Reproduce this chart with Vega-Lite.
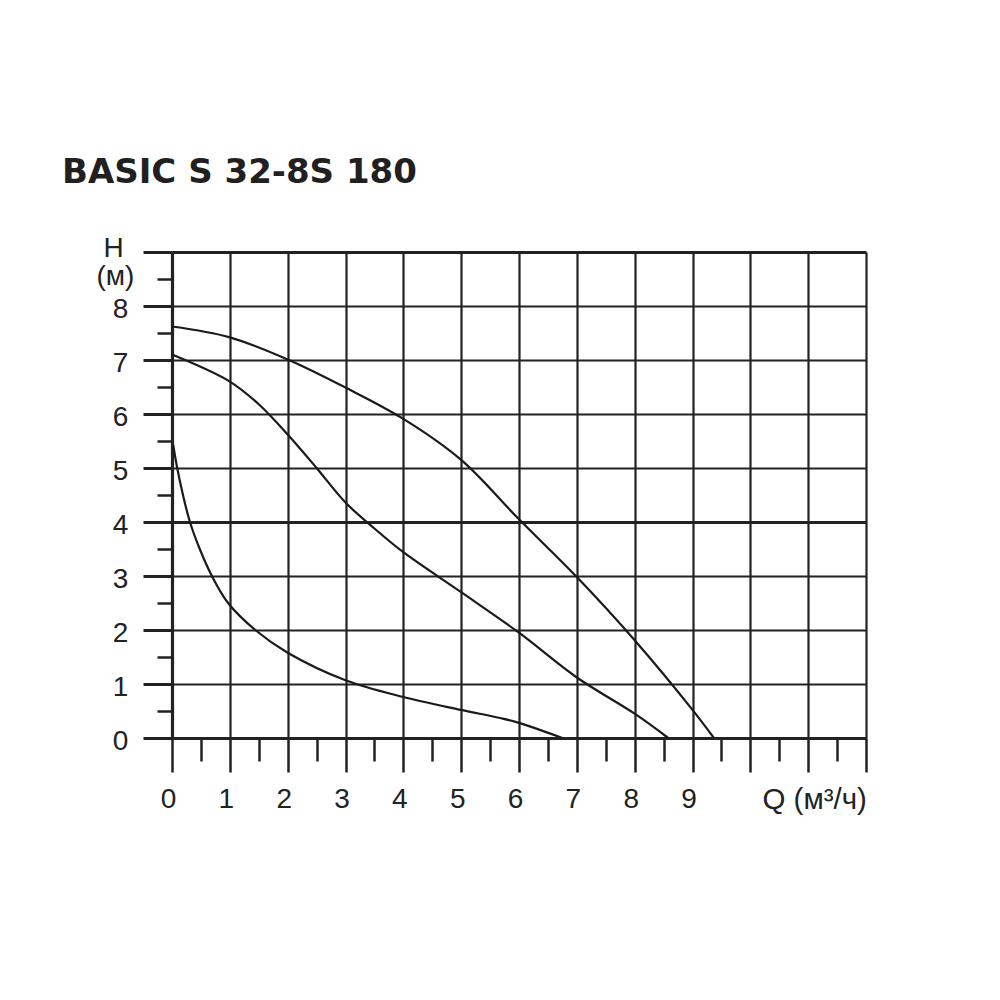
{
  "$schema": "https://vega.github.io/schema/vega-lite/v6.json",
  "width": 694,
  "height": 486,
  "autosize": "none",
  "padding": {"left": 172, "top": 252, "right": 134, "bottom": 262},
  "background": "white",
  "title": {
    "text": "BASIC S 32-8S 180",
    "anchor": "start",
    "frame": "group",
    "dx": -110,
    "offset": 17,
    "baseline": "alphabetic",
    "font": "DejaVu Sans",
    "fontSize": 34,
    "fontWeight": "bold",
    "color": "#231f20"
  },
  "config": {"view": {"stroke": null}},
  "data": {
    "values": [
      {"curve": "III", "Q": 0, "H": 7.62},
      {"curve": "III", "Q": 1, "H": 7.42},
      {"curve": "III", "Q": 2, "H": 7.01},
      {"curve": "III", "Q": 3, "H": 6.49},
      {"curve": "III", "Q": 4, "H": 5.91},
      {"curve": "III", "Q": 5, "H": 5.15},
      {"curve": "III", "Q": 6, "H": 4.05},
      {"curve": "III", "Q": 7, "H": 2.98},
      {"curve": "III", "Q": 8, "H": 1.81},
      {"curve": "III", "Q": 9, "H": 0.52},
      {"curve": "III", "Q": 9.37, "H": 0},
      {"curve": "II", "Q": 0, "H": 7.1},
      {"curve": "II", "Q": 1, "H": 6.6},
      {"curve": "II", "Q": 1.5, "H": 6.18},
      {"curve": "II", "Q": 2, "H": 5.62},
      {"curve": "II", "Q": 2.5, "H": 5.0},
      {"curve": "II", "Q": 3, "H": 4.36},
      {"curve": "II", "Q": 3.5, "H": 3.88},
      {"curve": "II", "Q": 4, "H": 3.44},
      {"curve": "II", "Q": 5, "H": 2.7},
      {"curve": "II", "Q": 6, "H": 1.95},
      {"curve": "II", "Q": 7, "H": 1.12},
      {"curve": "II", "Q": 8, "H": 0.45},
      {"curve": "II", "Q": 8.58, "H": 0},
      {"curve": "I", "Q": 0.02, "H": 5.43},
      {"curve": "I", "Q": 0.09, "H": 5.0},
      {"curve": "I", "Q": 0.19, "H": 4.5},
      {"curve": "I", "Q": 0.31, "H": 4.0},
      {"curve": "I", "Q": 0.48, "H": 3.5},
      {"curve": "I", "Q": 0.69, "H": 3.0},
      {"curve": "I", "Q": 0.97, "H": 2.5},
      {"curve": "I", "Q": 1.44, "H": 2.0},
      {"curve": "I", "Q": 2, "H": 1.58},
      {"curve": "I", "Q": 3, "H": 1.07},
      {"curve": "I", "Q": 4, "H": 0.76},
      {"curve": "I", "Q": 5, "H": 0.52},
      {"curve": "I", "Q": 5.67, "H": 0.37},
      {"curve": "I", "Q": 6, "H": 0.28},
      {"curve": "I", "Q": 6.75, "H": 0}
    ]
  },
  "mark": {"type": "line", "interpolate": "catmull-rom", "strokeWidth": 2.2, "color": "#1a1a1a"},
  "encoding": {
    "detail": {"field": "curve", "type": "nominal"},
    "x": {
      "field": "Q",
      "type": "quantitative",
      "scale": {"domain": [0, 12], "nice": false, "zero": false},
      "axis": {
        "title": null,
        "values": [0, 0.5, 1, 1.5, 2, 2.5, 3, 3.5, 4, 4.5, 5, 5.5, 6, 6.5, 7, 7.5, 8, 8.5, 9, 9.5, 10, 10.5, 11, 11.5, 12],
        "grid": true,
        "gridColor": "#222",
        "gridWidth": 2.2,
        "gridOpacity": {"condition": {"test": "datum.value % 1 !== 0", "value": 0}, "value": 1},
        "tickSize": {"condition": {"test": "datum.value % 1 !== 0", "value": 23}, "value": 34},
        "tickWidth": 2.5,
        "tickColor": "#222",
        "domainColor": "#222",
        "domainWidth": 3.2,
        "labelExpr": "datum.value % 1 === 0 && datum.value <= 9 ? '' + datum.value : (datum.value === 11 ? 'Q  (м³/ч)' : '')",
        "labelFont": "Liberation Sans",
        "labelFontSize": {"condition": {"test": "datum.value === 11", "value": 29.5}, "value": 28},
        "labelColor": "#222",
        "labelPadding": 13,
        "labelOffset": {"condition": {"test": "datum.value === 11", "value": 6}, "value": -4},
        "labelFlush": false,
        "labelOverlap": false,
        "labelBound": false
      }
    },
    "y": {
      "field": "H",
      "type": "quantitative",
      "scale": {"domain": [0, 9], "nice": false, "zero": false},
      "axis": {
        "title": null,
        "values": [0, 0.5, 1, 1.5, 2, 2.5, 3, 3.5, 4, 4.5, 5, 5.5, 6, 6.5, 7, 7.5, 8, 8.5, 9],
        "grid": true,
        "gridColor": "#222",
        "gridWidth": {"condition": {"test": "datum.value === 4 || datum.value === 9", "value": 3.2}, "value": 2.2},
        "gridOpacity": {"condition": {"test": "datum.value % 1 !== 0", "value": 0}, "value": 1},
        "tickSize": {"condition": {"test": "datum.value % 1 !== 0", "value": 15}, "value": 29},
        "tickWidth": {"condition": {"test": "datum.value % 1 !== 0", "value": 2.5}, "value": 3},
        "tickColor": "#222",
        "domainColor": "#222",
        "domainWidth": 3.2,
        "labelExpr": "datum.value === 9 ? 'H' : (datum.value === 8.5 ? '(м)' : (datum.value % 1 === 0 ? '' + datum.value : ''))",
        "labelFont": "Liberation Sans",
        "labelFontSize": 28,
        "labelColor": "#222",
        "labelAlign": "center",
        "labelBaseline": "middle",
        "labelPadding": {"condition": [{"test": "datum.value === 8.5", "value": 42}, {"test": "datum.value === 9", "value": 30}], "value": 23},
        "labelOffset": {"condition": [{"test": "datum.value === 9", "value": -4}, {"test": "datum.value === 8.5", "value": -3}], "value": 3},
        "labelFlush": false,
        "labelOverlap": false,
        "labelBound": false
      }
    }
  }
}
